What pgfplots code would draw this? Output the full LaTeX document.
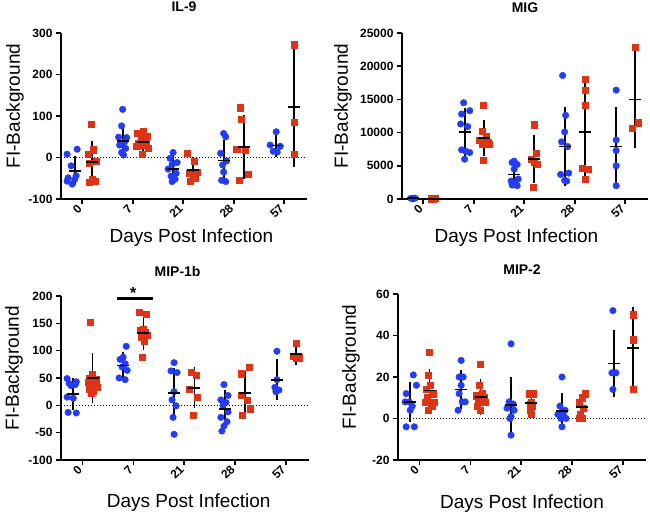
\documentclass[border=0pt]{standalone}
\usepackage{fontspec}
\setmainfont{Liberation Sans}
\usepackage{pgfplots}
\pgfplotsset{compat=1.18}
\definecolor{ptblue}{RGB}{35,60,245}
\definecolor{ptred}{RGB}{222,52,22}
\pgfplotsset{
  prism/.style={
    scale only axis, anchor=south west, clip=false,
    axis x line=bottom, axis y line=left,
    axis line style={-, line width=1.8pt, black},
    tick align=outside, major tick length=5pt,
    tick style={black, line width=1.6pt},
    xmin=-0.42, xmax=4.45,
    xtick={0,1,2,3,4}, xticklabels={0,7,21,28,57},
    xticklabel style={rotate=45, anchor=east, font=\bfseries\fontsize{12}{12}\selectfont},
    yticklabel style={font=\bfseries\fontsize{12}{12}\selectfont},
    /pgf/number format/assume math mode=true,
    /pgf/number format/1000 sep={},
    scaled y ticks=false,
    xlabel={Days Post Infection}, ylabel={FI-Background},
    label style={font=\fontsize{19}{19}\selectfont},
    ylabel style={anchor=center},
    xlabel style={anchor=center},
    title style={font=\bfseries\fontsize{14}{14}\selectfont, anchor=center},
  },
  bluept/.style={only marks, mark=*, mark size=3.3pt, color=ptblue, mark options={draw=ptblue, fill=ptblue}},
  redpt/.style={only marks, mark=square*, mark size=3.1pt, color=ptred, mark options={draw=ptred, fill=ptred}},
  meansd/.style={only marks, mark=-, mark size=6pt, black, mark options={line width=1.8pt},
    error bars/.cd, y dir=both, y explicit,
    error bar style={line width=1.8pt, black},
    error mark options={line width=1.8pt, mark size=3.5pt}},
  zeroline/.style={black, dash pattern=on 1pt off 2pt, line width=1.1pt},
}
\begin{document}
\begin{tikzpicture}
% ---------------- IL-9 ----------------
\begin{axis}[prism, at={(61pt,-199pt)}, width=246pt, height=166pt,
  ymin=-100, ymax=300, ytick={-100,0,100,200,300},
  title={IL-9}, title style={at={(axis description cs:0.5,1)}, yshift=20pt},
  ylabel style={at={(axis description cs:-0.187,0.56)}},
  xlabel style={at={(axis description cs:0.53,-0.235)}}]
\addplot[zeroline] coordinates {(-0.42,0) (4.45,0)};
\addplot[bluept] coordinates {
 (-0.30,8) (-0.10,20) (-0.22,-20) (-0.28,-49) (-0.12,-44) (-0.20,-64) (-0.30,-57) (-0.15,-53)
 (0.80,116) (0.78,76) (0.72,49) (0.88,48) (0.84,38) (0.74,30) (0.86,22) (0.78,12) (0.82,6)
 (1.80,12) (1.74,-2) (1.88,-12) (1.78,-17) (1.70,-28) (1.86,-38) (1.76,-45) (1.84,-52) (1.78,-58)
 (2.80,58) (2.84,50) (2.74,10) (2.86,-8) (2.78,-18) (2.80,-35) (2.76,-55) (2.84,-58)
 (3.84,62) (3.72,30) (3.92,27) (3.78,15) (3.86,13)};
\addplot[redpt] coordinates {
 (0.18,80) (0.12,7) (0.22,19) (0.28,-9) (0.14,-13) (0.20,-53) (0.26,-58) (0.14,-60)
 (1.20,63) (1.10,58) (1.28,52) (1.16,48) (1.26,40) (1.12,35) (1.22,30) (1.08,27) (1.30,22) (1.18,8)
 (2.08,10) (2.22,-8) (2.28,-35) (2.12,-38) (2.20,-42) (2.24,-50) (2.14,-58)
 (3.12,120) (3.14,93) (3.06,20) (3.22,17) (3.28,-40) (3.10,-55)
 (4.20,272) (4.20,86) (4.20,8)};
\addplot[meansd] coordinates {
 (-0.15,-32) +- (0,26) (0.80,40) +- (0,32) (1.80,-27) +- (0,25) (2.80,-7) +- (0,41) (3.84,29) +- (0,19)
 (0.20,-11) +- (0,42) (1.20,38) +- (0,17) (2.20,-31) +- (0,23) (3.20,26) +- (0,69) (4.20,122) +- (0,136)};
\end{axis}
% ---------------- MIG ----------------
\begin{axis}[prism, at={(402pt,-199pt)}, width=246pt, height=166pt,
  ymin=0, ymax=25000, ytick={0,5000,10000,15000,20000,25000},
  title={MIG}, title style={at={(axis description cs:0.5,1)}, yshift=19pt},
  ylabel style={at={(axis description cs:-0.24,0.56)}},
  xlabel style={at={(axis description cs:0.465,-0.235)}}]
\addplot[bluept] coordinates {
 (-0.24,100) (-0.16,120)
 (0.80,14500) (0.92,13300) (0.76,12800) (0.74,11300) (0.88,10900) (0.76,7400) (0.84,7200) (0.92,7000) (0.82,6000)
 (1.80,5700) (1.76,5500) (1.86,5200) (1.80,4500) (1.88,3000) (1.74,2700) (1.82,2400) (1.76,2100) (1.86,2000)
 (2.76,18600) (2.82,12600) (2.80,10100) (2.74,8600) (2.86,7900) (2.88,3900) (2.72,3700) (2.80,2800) (2.84,2700)
 (3.82,16400) (3.82,8900) (3.82,7300) (3.82,5000) (3.82,2000)};
\addplot[redpt] coordinates {
 (0.16,60) (0.24,70) (0.20,50)
 (1.18,14100) (1.16,10200) (1.24,9500) (1.12,8900) (1.22,8700) (1.28,8500) (1.16,8300) (1.30,8200) (1.18,5800)
 (2.20,11200) (2.24,6900) (2.14,6000) (2.20,5600) (2.26,5200) (2.18,1800)
 (3.20,18100) (3.20,16400) (3.20,14100) (3.14,4600) (3.26,4500) (3.20,3000)
 (4.14,10700) (4.26,11500) (4.20,22900)};
\addplot[meansd] coordinates {
 (-0.20,110) +- (0,20) (0.82,10100) +- (0,3150) (1.80,3700) +- (0,1500) (2.80,7900) +- (0,5400) (3.82,7900) +- (0,5400)
 (0.20,60) +- (0,10) (1.20,9200) +- (0,2200) (2.20,6050) +- (0,3050) (3.20,10100) +- (0,6800) (4.20,15000) +- (0,6800)};
\end{axis}
% ---------------- MIP-1b ----------------
\begin{axis}[prism, at={(61pt,-460pt)}, width=248pt, height=164pt,
  ymin=-100, ymax=200, ytick={-100,-50,0,50,100,150,200},
  title={MIP-1b}, title style={at={(axis description cs:0.47,1)}, yshift=19pt},
  ylabel style={at={(axis description cs:-0.19,0.56)}},
  xlabel style={at={(axis description cs:0.515,-0.262)}}]
\addplot[zeroline] coordinates {(-0.42,0) (4.45,0)};
\addplot[bluept] coordinates {
 (-0.30,49) (-0.12,43) (-0.26,40) (-0.14,38) (-0.22,36) (-0.30,15) (-0.18,13) (-0.28,-13) (-0.12,-14)
 (0.86,108) (0.80,88) (0.74,84) (0.84,76) (0.78,70) (0.88,64) (0.72,50) (0.84,47)
 (1.80,78) (1.74,63) (1.86,60) (1.80,25) (1.76,10) (1.84,-1) (1.78,-22) (1.80,-53)
 (2.78,38) (2.86,18) (2.72,10) (2.82,5) (2.76,0) (2.86,-12) (2.72,-22) (2.84,-30) (2.78,-38) (2.74,-47)
 (3.82,99) (3.82,47) (3.78,33) (3.86,28) (3.80,25)};
\addplot[redpt] coordinates {
 (0.16,152) (0.20,57) (0.14,50) (0.26,47) (0.12,42) (0.24,38) (0.18,36) (0.28,33) (0.14,30) (0.22,26) (0.18,22)
 (1.12,170) (1.26,166) (1.20,140) (1.14,137) (1.24,134) (1.18,131) (1.28,128) (1.16,125) (1.22,117) (1.18,88)
 (2.14,60) (2.24,55) (2.10,30) (2.26,15) (2.18,-18)
 (3.28,70) (3.12,58) (3.12,18) (3.24,9) (3.30,-6) (3.14,-18)
 (4.20,113) (4.14,90) (4.26,87) (4.20,86)};
\addplot[meansd] coordinates {
 (-0.18,21) +- (0,23) (0.80,73) +- (0,19) (1.80,23) +- (0,38) (2.80,-7) +- (0,28) (3.82,47) +- (0,31)
 (0.20,50) +- (0,40) (1.20,133) +- (0,25) (2.20,32) +- (0,31) (3.20,22) +- (0,35) (4.20,94) +- (0,13)};
\draw[line width=3.5pt] (axis cs:0.67,195) -- (axis cs:1.38,195);
\node[font=\bfseries\fontsize{16}{16}\selectfont] at (axis cs:1.0,206) {*};
\end{axis}
% ---------------- MIP-2 ----------------
\begin{axis}[prism, at={(398pt,-460pt)}, width=248pt, height=166pt,
  ymin=-20, ymax=60, ytick={-20,0,20,40,60},
  title={MIP-2}, title style={at={(axis description cs:0.5,1)}, yshift=18pt},
  ylabel style={at={(axis description cs:-0.19,0.56)}},
  xlabel style={at={(axis description cs:0.5,-0.265)}}]
\addplot[zeroline] coordinates {(-0.42,0) (4.45,0)};
\addplot[bluept] coordinates {
 (-0.12,21) (-0.06,16) (-0.26,12) (-0.28,8) (-0.20,8) (-0.14,6) (-0.18,4) (-0.26,-4) (-0.10,-4)
 (0.82,28) (0.78,20) (0.86,20) (0.82,16) (0.78,12) (0.84,8) (0.90,8) (0.76,4)
 (1.80,36) (1.76,8) (1.84,7) (1.72,5) (1.86,4) (1.80,1) (1.78,0) (1.80,-8)
 (2.80,20) (2.76,6) (2.86,4) (2.80,3) (2.72,2) (2.84,1) (2.78,0) (2.88,0) (2.80,-4)
 (3.80,52) (3.78,22) (3.86,22) (3.80,14)};
\addplot[redpt] coordinates {
 (0.20,32) (0.18,21) (0.22,16) (0.14,14) (0.26,12) (0.16,10) (0.12,8) (0.20,8) (0.28,8) (0.24,6) (0.18,4)
 (1.20,26) (1.18,16) (1.24,12) (1.12,11) (1.28,10) (1.16,9) (1.22,8) (1.30,8) (1.14,6) (1.20,4)
 (2.16,12) (2.24,12) (2.20,8) (2.18,7) (2.22,6) (2.18,4) (2.20,2)
 (3.26,12) (3.20,10) (3.14,8) (3.22,5) (3.16,2) (3.20,0) (3.14,0)
 (4.20,50) (4.20,38) (4.20,14)};
\addplot[meansd] coordinates {
 (-0.18,8) +- (0,8) (0.82,14) +- (0,7.5) (1.80,6.5) +- (0,12) (2.80,3.5) +- (0,7) (3.82,26.5) +- (0,14.5)
 (0.20,13.5) +- (0,8.5) (1.20,10.5) +- (0,7) (2.20,7.3) +- (0,4.5) (3.20,5.5) +- (0,4.5) (4.20,34) +- (0,18)};
\end{axis}
\pgfresetboundingbox
\useasboundingbox (0pt,0pt) rectangle (650pt,-514pt);
\end{tikzpicture}
\end{document}
